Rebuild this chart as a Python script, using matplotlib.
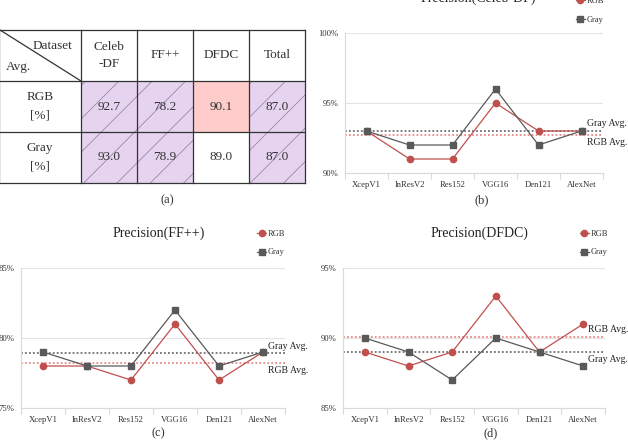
import matplotlib

matplotlib.use("Agg")
import matplotlib.pyplot as plt
from matplotlib.patches import Rectangle

plt.rcParams["font.family"] = ["Liberation Serif", "DejaVu Serif"]
plt.rcParams["hatch.linewidth"] = 0.6

# data
models = ["XcepV1", "InResV2", "Res152", "VGG16", "Den121", "AlexNet"]

celeb_rgb = [93, 91, 91, 95, 93, 93]
celeb_gray = [93, 92, 92, 96, 92, 93]
ff_rgb = [78, 78, 77, 81, 77, 79]
ff_gray = [79, 78, 78, 82, 78, 79]
dfdc_rgb = [89, 88, 89, 93, 89, 91]
dfdc_gray = [90, 89, 87, 90, 89, 88]

datasets = ["Celeb\n-DF", "FF++", "DFDC", "Total"]
avg_rgb = [92.7, 78.2, 90.1, 87.0]
avg_gray = [93.0, 78.9, 89.0, 87.0]
row_labels = ["RGB\n[%]", "Gray\n[%]"]

W, H = 628, 446
RED = "#C0504D"
GRAY = "#595959"
PURPLE = "#E6D3F0"
PINK = "#FFCCCC"


def px_axes(fig, x0, y0, x1, y1):
    """Add axes from a pixel box (top-left origin)."""
    return fig.add_axes([x0 / W, 1 - y1 / H, (x1 - x0) / W, (y1 - y0) / H])


def draw_table(ax):
    col_x = [-1, 81, 137, 193, 249, 305]
    row_y = [30, 81, 132, 183]
    rows = [avg_rgb, avg_gray]
    for r, vals in enumerate(rows):
        for c, v in enumerate(vals):
            x0, x1 = col_x[c + 1], col_x[c + 2]
            y0, y1 = row_y[r + 1], row_y[r + 2]
            if datasets[c] == "DFDC":
                fc = PINK if r == 0 else "white"
                ax.add_patch(Rectangle((x0, y0), x1 - x0, y1 - y0, facecolor=fc, lw=0))
            else:
                ax.add_patch(
                    Rectangle((x0, y0), x1 - x0, y1 - y0, facecolor=PURPLE,
                              edgecolor="#9A88A6", hatch="/", lw=0)
                )
            ax.text((x0 + x1) / 2, (y0 + y1) / 2, f"{v:.1f}", ha="center",
                    va="center", fontsize=9.5, color="#333333")
        ax.text(40, (row_y[r + 1] + row_y[r + 2]) / 2, row_labels[r], ha="center",
                va="center", fontsize=9.5, linespacing=1.7, color="#333333")
    for c, name in enumerate(datasets):
        ax.text((col_x[c + 1] + col_x[c + 2]) / 2, (row_y[0] + row_y[1]) / 2, name,
                ha="center", va="center", fontsize=9.5, linespacing=1.5, color="#333333")
    ax.text(72, 46, "Dataset", ha="right", va="center", fontsize=9.5, color="#333333")
    ax.text(6, 67, "Avg.", ha="left", va="center", fontsize=9.5, color="#333333")
    ax.plot([0, col_x[1]], [row_y[0], row_y[1]], color="#333333", lw=0.9)
    for x in col_x:
        ax.plot([x, x], [row_y[0], row_y[-1]], color="#333333", lw=0.9)
    for y in row_y:
        ax.plot([col_x[0], col_x[-1]], [y, y], color="#333333", lw=0.9)


def draw_panel(ax, rgb, gray, r_avg, g_avg, lo, leg_x, leg_y):
    x = list(range(len(models)))
    ax.set_xlim(-0.5, len(models) - 0.5)
    ax.set_ylim(lo, lo + 10)
    ax.axhline(g_avg, color="#555555", ls=(0, (1.2, 1.4)), lw=1.1, zorder=2)
    ax.axhline(r_avg, color="#E27676", ls=(0, (1.2, 1.4)), lw=1.1, zorder=2)
    ax.plot(x, rgb, color=RED, marker="o", ms=4.5, lw=0.9, label="RGB", zorder=4)
    ax.plot(x, gray, color=GRAY, marker="s", ms=4.7, lw=0.9, label="Gray", zorder=5)

    ax.set_yticks([lo, lo + 5, lo + 10])
    ax.set_yticklabels([f"{v}%" for v in (lo, lo + 5, lo + 10)])
    ax.set_xticks(x)
    ax.set_xticklabels(models)
    ax.set_xticks([i - 0.5 for i in range(len(models) + 1)], minor=True)
    ax.tick_params(axis="both", which="major", length=0, labelsize=6.2, colors="#333333")
    ax.tick_params(axis="y", pad=5)
    ax.tick_params(axis="x", pad=5.5)
    ax.tick_params(axis="x", which="minor", length=4, color="#D9D9D9", width=0.8)
    ax.grid(axis="y", color="#E3E3E3", lw=0.8)
    ax.set_axisbelow(True)
    for side in ("top", "right"):
        ax.spines[side].set_visible(False)
    for side in ("left", "bottom"):
        ax.spines[side].set_color("#D9D9D9")
        ax.spines[side].set_linewidth(0.8)

    upper, lower = ("Gray Avg.", "RGB Avg.") if g_avg >= r_avg else ("RGB Avg.", "Gray Avg.")
    hi, lo_v = max(g_avg, r_avg), min(g_avg, r_avg)
    for label, val, dy in ((upper, hi, 7), (lower, lo_v, -7)):
        ax.annotate(label, xy=(0.937, val), xycoords=("axes fraction", "data"),
                    xytext=(0, dy), textcoords="offset pixels", ha="left",
                    va="center", fontsize=7, color="#222222", annotation_clip=False)

    ax.legend(loc="upper left", bbox_to_anchor=(leg_x, leg_y), frameon=False,
              fontsize=6, handlelength=1.1, handletextpad=0.2, labelspacing=1.3,
              borderpad=0, borderaxespad=0, labelcolor="#333333")


fig = plt.figure(figsize=(W / 100, H / 100), dpi=100)

tab_ax = fig.add_axes([0, 0, 1, 1])
tab_ax.set_xlim(0, W)
tab_ax.set_ylim(H, 0)
tab_ax.axis("off")
draw_table(tab_ax)

ax_b = px_axes(fig, 345, 33, 603, 173)
draw_panel(ax_b, celeb_rgb, celeb_gray, avg_rgb[0], avg_gray[0], 90, 0.895, 1.257)
ax_c = px_axes(fig, 21, 268, 285, 408)
draw_panel(ax_c, ff_rgb, ff_gray, avg_rgb[1], avg_gray[1], 75, 0.894, 1.274)
ax_d = px_axes(fig, 343, 268, 605, 408)
draw_panel(ax_d, dfdc_rgb, dfdc_gray, avg_rgb[2], avg_gray[2], 85, 0.904, 1.274)

titles = [("Precision(Celeb-DF)", 478, 2), ("Precision(FF++)", 159, 237),
          ("Precision(DFDC)", 479, 237)]
for text, x, y in titles:
    tab_ax.text(x, y, text, ha="center", va="baseline", fontsize=10, color="#222222")

captions = [("(a)", 167, 200), ("(b)", 482, 200), ("(c)", 158, 433), ("(d)", 491, 433)]
for text, x, y in captions:
    tab_ax.text(x, y, text, ha="center", va="center", fontsize=9, color="#333333")

plt.savefig("out.png", dpi=100)
plt.close()
